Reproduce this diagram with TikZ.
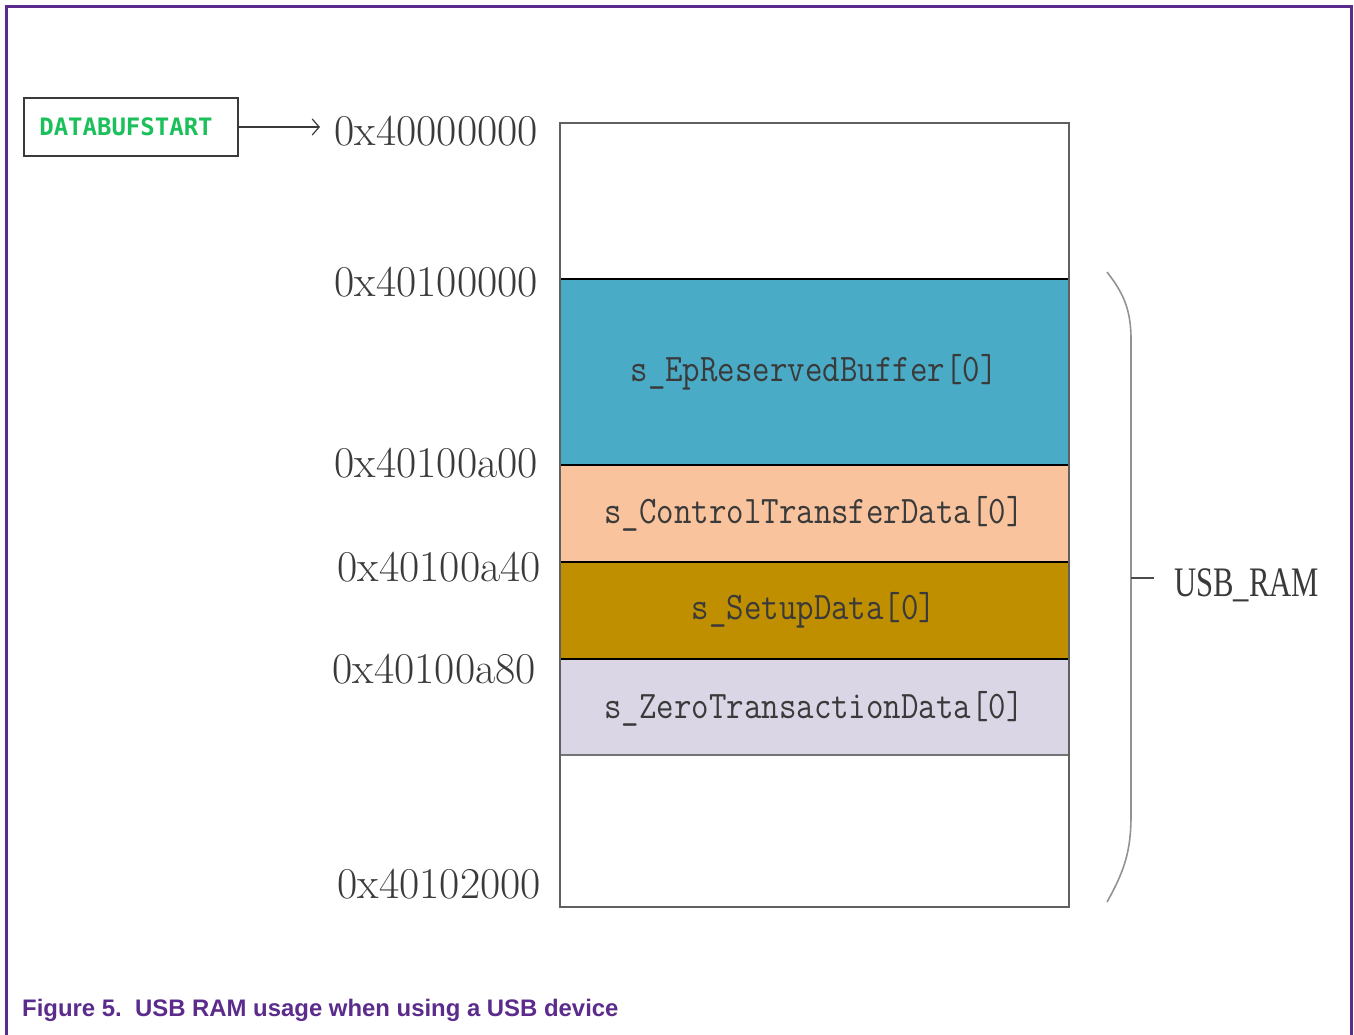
\documentclass[tikz,border=0pt]{standalone}
\usepackage{fontspec}
\newfontfamily\capfont{Liberation Sans}
\newfontfamily\tagfont{DejaVu Sans Mono}
\newfontfamily\ramfont{Liberation Serif}
\usetikzlibrary{arrows.meta}
\definecolor{framepurple}{HTML}{5B2C8C}
\definecolor{epblue}{HTML}{4AABC6}
\definecolor{ctlpeach}{HTML}{F8C39D}
\definecolor{setupgold}{HTML}{BF8F00}
\definecolor{zerolav}{HTML}{DAD6E6}
\definecolor{tagreen}{HTML}{1CC05A}
\definecolor{inkgray}{HTML}{3A3A3A}
\tikzset{
  addr/.style={anchor=east, inner sep=0pt, text=inkgray,
    font=\fontsize{44}{44}\selectfont},
  region/.style={draw=black, line width=1.6pt},
  slotlabel/.style={inner sep=0pt, text=inkgray,
    font=\ttfamily\fontsize{39}{39}\selectfont},
  bracecol/.style={draw=gray!85, line width=1.6pt},
}
\newcommand{\slottext}[1]{\scalebox{0.87}[1]{#1}}
\begin{document}
\begin{tikzpicture}[x=1pt,y=-1pt]
  \useasboundingbox (0,0) rectangle (1354,1035);
  % page frame (open at the bottom)
  \draw[framepurple, line width=3pt] (6.5,1035) -- (6.5,6.5) -- (1351.5,6.5) -- (1351.5,1035);

  % memory regions
  \fill[epblue]    (560,279) rectangle (1069,465);
  \fill[ctlpeach]  (560,465) rectangle (1069,562);
  \fill[setupgold] (560,562) rectangle (1069,659);
  \fill[zerolav]   (560,659) rectangle (1069,755);
  \draw[region] (560,279) -- (1069,279);
  \draw[region] (560,465) -- (1069,465);
  \draw[region] (560,562) -- (1069,562);
  \draw[region] (560,659) -- (1069,659);
  \draw[draw=gray!90!black, line width=1.4pt] (560,755) -- (1069,755);
  \node[draw=gray!75!black, line width=1.8pt, minimum width=509pt, minimum height=784pt,
        inner sep=0pt] (ram) at (814.5,515) {};

  \node[slotlabel] (ep)   at (814,372) {\slottext{s\_EpReservedBuffer[0]}};
  \node[slotlabel] (ctl)  at (814,514) {\slottext{s\_ControlTransferData[0]}};
  \node[slotlabel] (set)  at (814,610) {\slottext{s\_SetupData[0]}};
  \node[slotlabel] (zero) at (814,709) {\slottext{s\_ZeroTransactionData[0]}};

  % addresses
  \node[addr] (a0) at (538,131) {0x40000000};
  \node[addr] (a1) at (538,282) {0x40100000};
  \node[addr] (a2) at (538,463) {0x40100a00};
  \node[addr] (a3) at (541,567) {0x40100a40};
  \node[addr] (a4) at (536,669) {0x40100a80};
  \node[addr] (a5) at (541,884) {0x40102000};

  % start marker
  \node[draw=inkgray, line width=1.4pt, minimum width=214pt, minimum height=58pt,
        inner sep=0pt] (dbs) at (131,127) {};
  \node[inner sep=0pt, text=tagreen, font=\tagfont\bfseries\fontsize{24}{24}\selectfont]
        (dbstxt) at (126,127) {DATABUFSTART};
  \coordinate (arrEnd) at (320,127);
  \draw[inkgray, line width=1.2pt, -{Straight Barb[length=7pt,width=16pt]}] (dbs.east) -- (arrEnd);

  % USB_RAM brace
  \draw[bracecol] (1107,272) .. controls (1125,295) and (1131,312) .. (1131,340)
        -- (1131,815) .. controls (1131,850) and (1125,870) .. (1107,902);
  \coordinate (tickA) at (1131,578);
  \coordinate (tickB) at (1154,578);
  \draw[bracecol, draw=gray!60!black, line width=1.3pt] (tickA) -- (tickB);
  \node[anchor=west, inner sep=0pt, text=inkgray, font=\ramfont\fontsize{42}{42}\selectfont]
        (usbram) at (1174,585) {\scalebox{0.73}[1]{USB\_RAM}};

  % caption
  \node[anchor=base west, inner sep=0pt, text=framepurple,
        font=\capfont\bfseries\fontsize{23.9}{24}\selectfont]
        (cap) at (22,1016) {Figure 5.\ \ USB RAM usage when using a USB device};
\end{tikzpicture}
\end{document}
